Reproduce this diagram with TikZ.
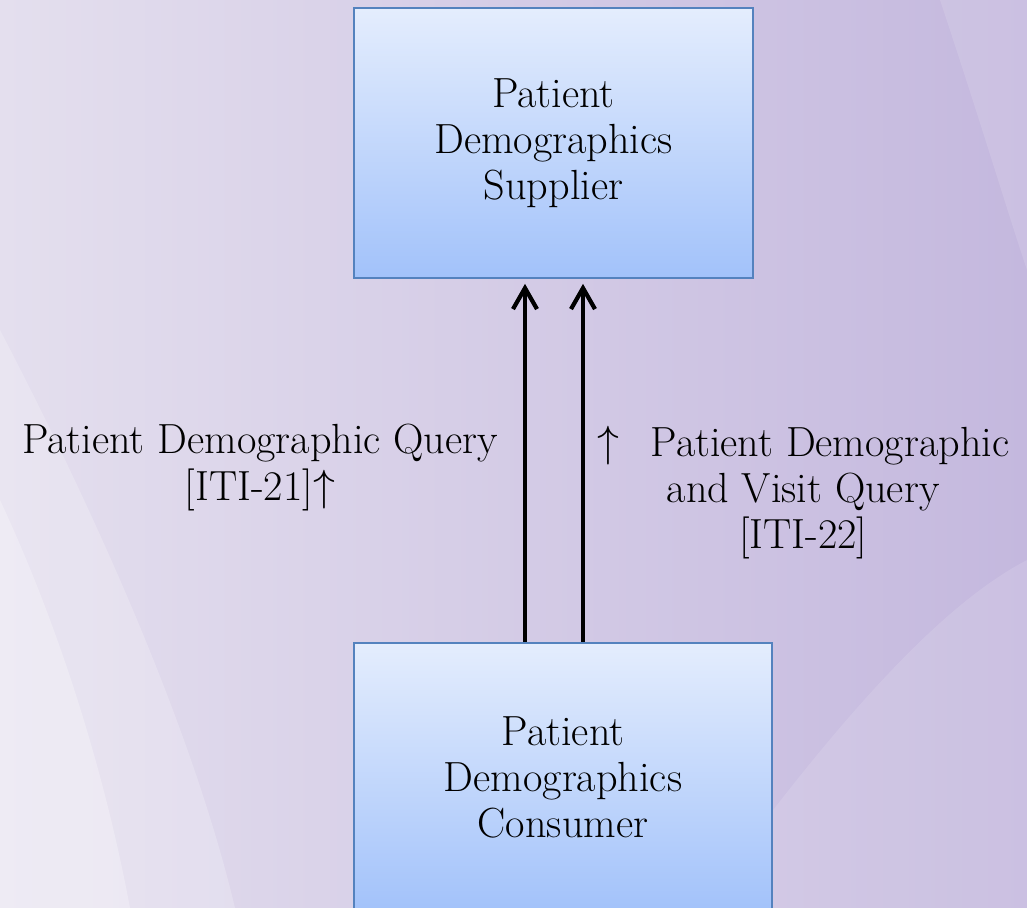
\documentclass[tikz,border=0pt]{standalone}
\usepackage{tikz}
\usetikzlibrary{arrows.meta,calc,positioning}
\definecolor{boxtop}{RGB}{228,237,253}
\definecolor{boxbot}{RGB}{162,194,250}
\definecolor{boxline}{RGB}{84,130,190}
\definecolor{bgleft}{RGB}{228,223,238}
\definecolor{bgright}{RGB}{196,184,222}
\tikzset{%
	actor/.style   = {draw=boxline, line width=1pt, rectangle, top color=boxtop, bottom color=boxbot, align=center, font=\fontsize{24}{26.3}\selectfont}, % Actor
	txn/.style     = {align=center, inner sep=0pt, font=\fontsize{24}{26.3}\selectfont}, % Transaction text
	flow/.style    = {line width=2.4pt, -{Straight Barb[length=4.2mm, width=4.8mm]}, shorten >=0.1cm}, % Transaction arrow
}

\begin{document}
\begin{tikzpicture}[x=0.02cm, y=-0.02cm]
	\useasboundingbox (0,0) rectangle (1027,908);
	\clip (0,0) rectangle (1027,908);
	% background
	\fill[left color=bgleft, right color=bgright] (0,0) rectangle (1027,908);
	\fill[white, opacity=0.2] (0,330) .. controls (120,560) and (200,760) .. (235,908) -- (0,908) -- cycle;
	\fill[white, opacity=0.25] (0,500) .. controls (70,650) and (110,800) .. (130,908) -- (0,908) -- cycle;
	\fill[white, opacity=0.12] (940,0) .. controls (980,120) and (1010,220) .. (1027,270) -- (1027,0) -- cycle;
	\fill[white, opacity=0.12] (700,908) .. controls (850,700) and (950,600) .. (1027,560) -- (1027,908) -- cycle;
	% actors
	\node[actor, minimum width=7.98cm, minimum height=5.4cm] (supp) at (553.5,143) {Patient\\Demographics\\Supplier};
	\node[actor, minimum width=8.36cm, minimum height=5.4cm, below=7.26cm of supp, xshift=0.19cm] (cons) {Patient\\Demographics\\Consumer};
	% transactions
	\draw[flow] ([xshift=-0.76cm]cons.north) -- node[txn, pos=0.48, anchor=east, xshift=-0.5cm] (iti21) {Patient Demographic Query\\{[ITI-21]}$\uparrow$} ([xshift=-0.76cm]cons.north |- supp.south);
	\draw[flow] ([xshift=0.4cm]cons.north) -- node[txn, pos=0.6, anchor=north west, xshift=0.24cm] (iti22) {$\uparrow$\hspace{0.75em}Patient Demographic\\and Visit Query\\{[ITI-22]}} ([xshift=0.4cm]cons.north |- supp.south);
\end{tikzpicture}
\end{document}
